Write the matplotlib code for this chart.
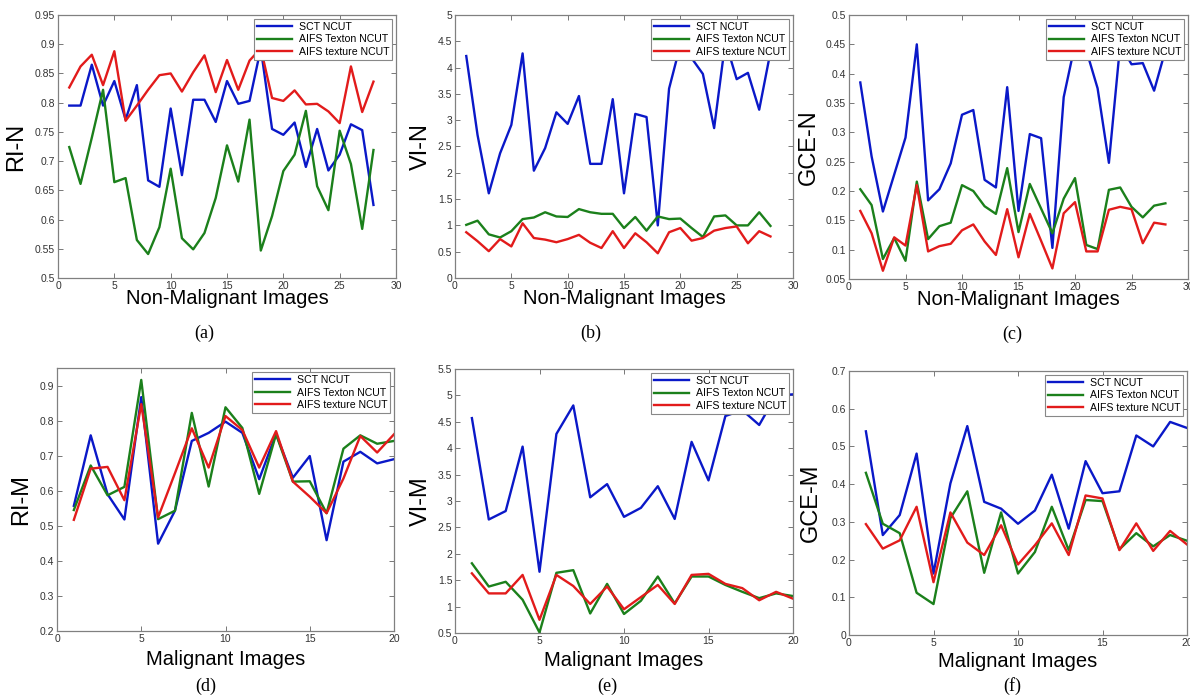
import matplotlib
matplotlib.use("Agg")
import matplotlib.pyplot as plt
from matplotlib.ticker import MultipleLocator, FormatStrFormatter

plt.rcParams["font.family"] = ["Liberation Sans", "DejaVu Sans"]

# --- data: non-malignant images (28) ---
x_n = list(range(1, 29))
ri_n_sct = [0.795, 0.795, 0.865, 0.795, 0.837, 0.771, 0.830, 0.667, 0.656, 0.790, 0.676, 0.805, 0.805, 0.767,
            0.837, 0.798, 0.803, 0.893, 0.755, 0.745, 0.766, 0.690, 0.755, 0.684, 0.711, 0.763, 0.753, 0.625]
ri_n_texton = [0.724, 0.661, 0.740, 0.822, 0.664, 0.671, 0.565, 0.541, 0.587, 0.687, 0.568, 0.549, 0.577, 0.637,
               0.727, 0.665, 0.771, 0.547, 0.606, 0.683, 0.711, 0.786, 0.657, 0.616, 0.752, 0.695, 0.584, 0.719]
ri_n_texture = [0.826, 0.862, 0.882, 0.830, 0.888, 0.769, 0.795, 0.822, 0.847, 0.850, 0.819, 0.852, 0.881, 0.818,
                0.873, 0.822, 0.872, 0.893, 0.808, 0.803, 0.821, 0.797, 0.798, 0.785, 0.765, 0.862, 0.784, 0.836]

vi_n_sct = [4.22, 2.72, 1.61, 2.37, 2.91, 4.27, 2.04, 2.47, 3.15, 2.93, 3.46, 2.17, 2.17, 3.40,
            1.61, 3.12, 3.06, 1.00, 3.60, 4.43, 4.18, 3.88, 2.85, 4.50, 3.78, 3.90, 3.20, 4.30]
vi_n_texton = [1.01, 1.09, 0.83, 0.77, 0.89, 1.12, 1.15, 1.25, 1.17, 1.16, 1.31, 1.25, 1.22, 1.22,
               0.95, 1.16, 0.90, 1.17, 1.12, 1.13, 0.95, 0.78, 1.17, 1.19, 1.00, 1.00, 1.25, 0.99]
vi_n_texture = [0.87, 0.70, 0.51, 0.74, 0.60, 1.04, 0.76, 0.73, 0.68, 0.74, 0.82, 0.67, 0.57, 0.89,
                0.57, 0.85, 0.68, 0.47, 0.87, 0.95, 0.71, 0.76, 0.90, 0.95, 0.98, 0.66, 0.89, 0.79]

gce_n_sct = [0.385, 0.259, 0.165, 0.228, 0.291, 0.450, 0.184, 0.203, 0.247, 0.330, 0.338, 0.219, 0.206, 0.377,
             0.166, 0.297, 0.290, 0.103, 0.360, 0.450, 0.440, 0.375, 0.248, 0.450, 0.416, 0.418, 0.371, 0.440]
gce_n_texton = [0.203, 0.176, 0.084, 0.120, 0.081, 0.216, 0.118, 0.140, 0.146, 0.210, 0.200, 0.174, 0.161, 0.239,
                0.130, 0.212, 0.170, 0.128, 0.187, 0.222, 0.108, 0.101, 0.202, 0.206, 0.173, 0.155, 0.175, 0.179]
gce_n_texture = [0.166, 0.128, 0.064, 0.121, 0.107, 0.210, 0.097, 0.106, 0.110, 0.133, 0.143, 0.114, 0.091, 0.169,
                 0.087, 0.161, 0.115, 0.068, 0.162, 0.181, 0.097, 0.097, 0.168, 0.173, 0.169, 0.111, 0.146, 0.143]

# --- data: malignant images (20) ---
x_m = list(range(1, 21))
ri_m_sct = [0.557, 0.758, 0.590, 0.518, 0.867, 0.449, 0.543, 0.742, 0.765, 0.797,
            0.765, 0.633, 0.762, 0.637, 0.699, 0.459, 0.683, 0.711, 0.678, 0.690]
ri_m_texton = [0.545, 0.672, 0.587, 0.611, 0.916, 0.519, 0.543, 0.822, 0.612, 0.838,
               0.779, 0.591, 0.761, 0.626, 0.627, 0.536, 0.720, 0.758, 0.734, 0.742]
ri_m_texture = [0.517, 0.663, 0.668, 0.573, 0.847, 0.524, 0.650, 0.778, 0.666, 0.813,
                0.773, 0.666, 0.770, 0.626, 0.583, 0.536, 0.635, 0.756, 0.709, 0.761]

vi_m_sct = [4.57, 2.65, 2.81, 4.03, 1.66, 4.27, 4.81, 3.07, 3.32, 2.70,
            2.87, 3.28, 2.66, 4.12, 3.39, 4.61, 4.72, 4.44, 5.00, 5.02]
vi_m_texton = [1.82, 1.38, 1.47, 1.13, 0.51, 1.64, 1.69, 0.87, 1.43, 0.86,
               1.11, 1.57, 1.06, 1.57, 1.57, 1.41, 1.28, 1.16, 1.25, 1.20]
vi_m_texture = [1.63, 1.25, 1.25, 1.60, 0.75, 1.60, 1.39, 1.05, 1.38, 0.95,
                1.18, 1.41, 1.05, 1.60, 1.62, 1.43, 1.35, 1.12, 1.28, 1.15]

gce_m_sct = [0.540, 0.265, 0.318, 0.481, 0.163, 0.402, 0.554, 0.353, 0.335, 0.295,
             0.330, 0.425, 0.282, 0.461, 0.376, 0.381, 0.529, 0.500, 0.565, 0.549]
gce_m_texton = [0.430, 0.295, 0.270, 0.112, 0.082, 0.310, 0.381, 0.165, 0.325, 0.163,
                0.220, 0.340, 0.225, 0.358, 0.355, 0.227, 0.270, 0.235, 0.265, 0.250]
gce_m_texture = [0.294, 0.229, 0.251, 0.340, 0.140, 0.325, 0.245, 0.212, 0.291, 0.187,
                 0.238, 0.296, 0.212, 0.370, 0.362, 0.225, 0.296, 0.223, 0.276, 0.240]

labels = ["SCT NCUT", "AIFS Texton NCUT", "AIFS texture NCUT"]
colors = ["#0a18c8", "#1b801b", "#e21b1b"]

W, H = 1190, 696
fig = plt.figure(figsize=(W / 100, H / 100), dpi=100)

# panel: pixel box (l, t, r, b), x, series, ylim, ytick step, ylabel, xlabel, xmax,
#        caption, caption x/y, ylabel right edge, xlabel offset below axes (px)
panels = [
    ((58, 15, 396, 278), x_n, [ri_n_sct, ri_n_texton, ri_n_texture], (0.5, 0.95), 0.05, "RI-N",
     "Non-Malignant Images", 30, "(a)", 204, 333, 27, 11),
    ((455, 15, 793, 278), x_n, [vi_n_sct, vi_n_texton, vi_n_texture], (0, 5), 0.5, "VI-N",
     "Non-Malignant Images", 30, "(b)", 591, 333, 432, 11),
    ((849, 15, 1188, 279), x_n, [gce_n_sct, gce_n_texton, gce_n_texture], (0.05, 0.5), 0.05, "GCE-N",
     "Non-Malignant Images", 30, "(c)", 1012, 334, 820, 11),
    ((57, 368, 394, 631), x_m, [ri_m_sct, ri_m_texton, ri_m_texture], (0.2, 0.95), 0.1, "RI-M",
     "Malignant Images", 20, "(d)", 206, 686, 32, 19),
    ((455, 369, 793, 633), x_m, [vi_m_sct, vi_m_texton, vi_m_texture], (0.5, 5.5), 0.5, "VI-M",
     "Malignant Images", 20, "(e)", 607, 686, 432, 18),
    ((849, 371, 1187, 635), x_m, [gce_m_sct, gce_m_texton, gce_m_texture], (0, 0.7), 0.1, "GCE-M",
     "Malignant Images", 20, "(f)", 1012, 686, 822, 17),
]

for (l, t, r, b), xs, series, ylim, ystep, ylab, xlab, xmax, cap, cx, cy, ylx, xoff in panels:
    ax = fig.add_axes([l / W, 1 - b / H, (r - l) / W, (b - t) / H])
    for ys, lab, c in zip(series, labels, colors):
        ax.plot(xs, ys, color=c, linewidth=1.7, label=lab)
    ax.set_xlim(0, xmax)
    ax.set_ylim(*ylim)
    ax.xaxis.set_major_locator(MultipleLocator(5))
    ax.yaxis.set_major_locator(MultipleLocator(ystep))
    ax.xaxis.set_major_formatter(FormatStrFormatter("%g"))
    ax.yaxis.set_major_formatter(FormatStrFormatter("%g"))
    ax.tick_params(direction="in", top=True, right=True, labelsize=7.5, labelcolor="#333333",
                   color="#777777", length=3.5, width=0.7, pad=2)
    for sp in ax.spines.values():
        sp.set_color("#808080")
        sp.set_linewidth(0.9)
    ax.set_xlabel(xlab, fontsize=14.5)
    ax.set_ylabel(ylab, fontsize=17)
    ax.xaxis.set_label_coords(0.5, -xoff / (b - t))
    ax.yaxis.set_label_coords((ylx - l) / (r - l), 0.5)
    leg = ax.legend(loc="upper right", fontsize=7.6, frameon=True, fancybox=False,
                    framealpha=1, edgecolor="#888888", handlelength=3.3,
                    borderpad=0.3, labelspacing=0.25, handletextpad=0.6,
                    borderaxespad=0.35)
    leg.get_frame().set_linewidth(0.8)
    fig.text(cx / W, 1 - cy / H, cap, ha="center", va="center", fontsize=13,
             family=["Liberation Serif", "DejaVu Serif"])

fig.savefig("out.png", dpi=100)
